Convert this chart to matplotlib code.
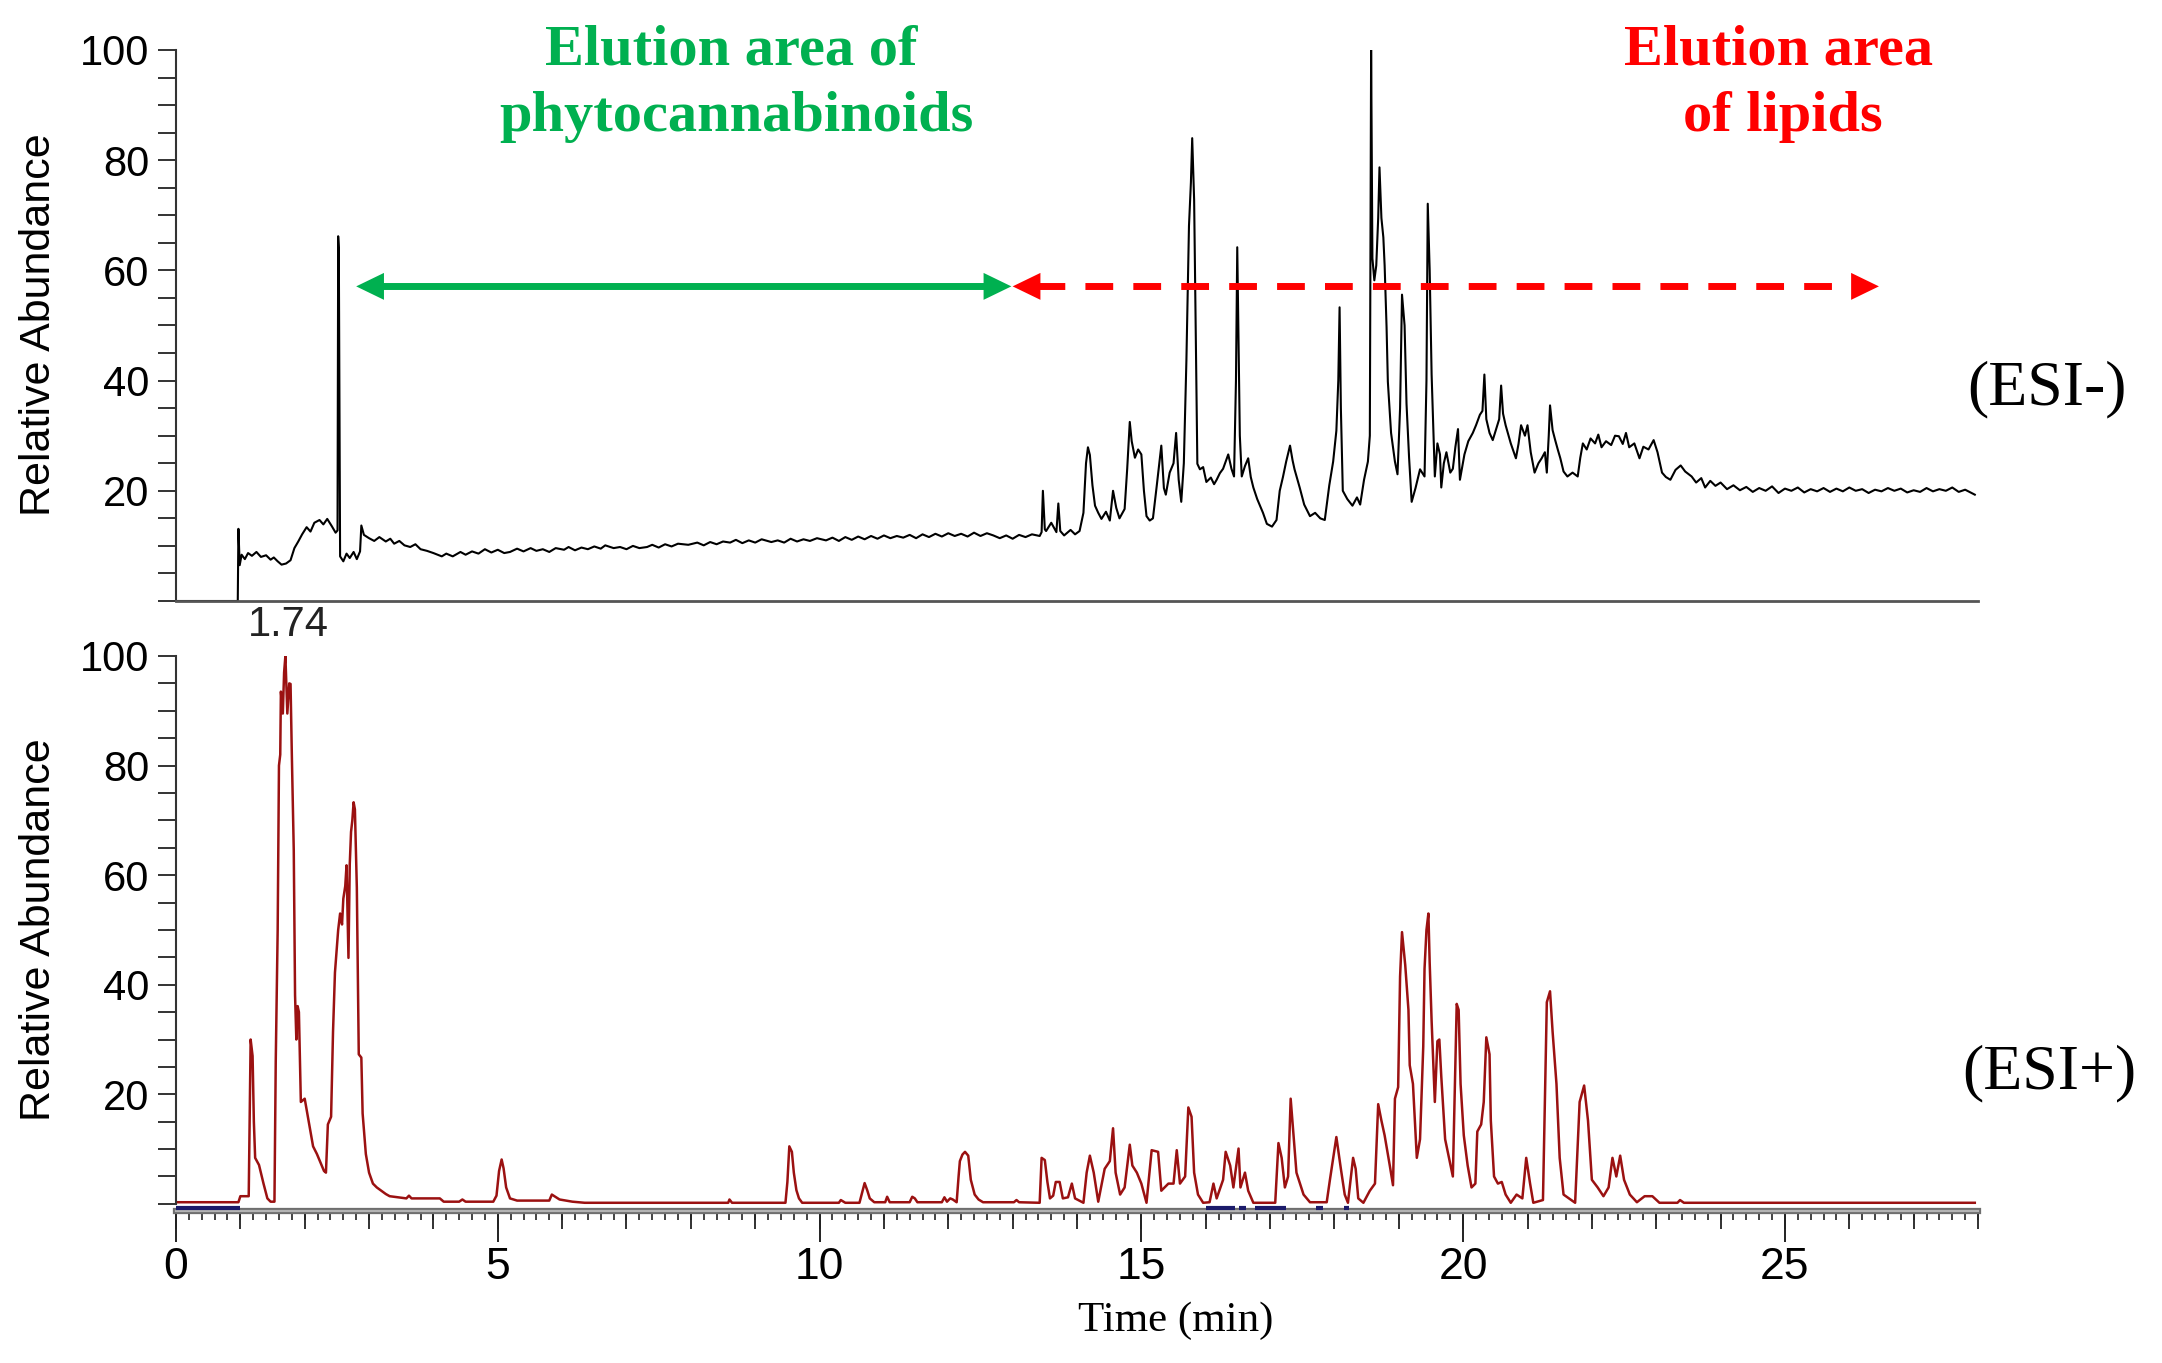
import matplotlib
matplotlib.use("Agg")
import matplotlib.pyplot as plt
from matplotlib.patches import FancyArrowPatch
from matplotlib.ticker import MultipleLocator

# ---- data ----
# ESI- total ion chromatogram (time in min, relative abundance %)
neg_time = [0.0, 0.96, 0.97, 0.99, 1.02, 1.07, 1.12, 1.18, 1.25, 1.32, 1.40, 1.47, 1.52, 1.58, 1.64, 1.71,
            1.78, 1.84, 1.90, 1.96, 2.03, 2.09, 2.15, 2.23, 2.29, 2.35, 2.42, 2.48, 2.51, 2.52, 2.53, 2.55,
            2.60, 2.65, 2.70, 2.76, 2.81, 2.86, 2.88, 2.92, 3.00, 3.08, 3.16, 3.26, 3.33, 3.39, 3.47, 3.55,
            3.64, 3.72, 3.80, 3.90, 4.00, 4.13, 4.20, 4.30, 4.42, 4.50, 4.60, 4.70, 4.80, 4.90, 5.00, 5.10,
            5.19, 5.30, 5.40, 5.51, 5.60, 5.70, 5.80, 5.90, 6.03, 6.10, 6.20, 6.30, 6.40, 6.50, 6.60, 6.67,
            6.80, 6.90, 7.00, 7.10, 7.20, 7.32, 7.40, 7.50, 7.60, 7.70, 7.80, 7.96, 8.10, 8.20, 8.30, 8.40,
            8.50, 8.61, 8.70, 8.80, 8.90, 9.00, 9.10, 9.25, 9.35, 9.45, 9.55, 9.65, 9.75, 9.85, 9.96, 10.10,
            10.20, 10.30, 10.40, 10.50, 10.60, 10.70, 10.80, 10.90, 11.00, 11.10, 11.20, 11.30, 11.40, 11.50,
            11.60, 11.70, 11.80, 11.90, 12.00, 12.10, 12.20, 12.30, 12.40, 12.50, 12.60, 12.70, 12.80, 12.90,
            13.00, 13.10, 13.20, 13.30, 13.42, 13.45, 13.47, 13.50, 13.52, 13.60, 13.68, 13.71, 13.74, 13.80,
            13.90, 13.97, 14.04, 14.10, 14.14, 14.17, 14.20, 14.24, 14.28, 14.33, 14.38, 14.45, 14.51, 14.56,
            14.61, 14.66, 14.74, 14.78, 14.82, 14.85, 14.90, 14.95, 15.00, 15.04, 15.08, 15.13, 15.18, 15.24,
            15.31, 15.35, 15.38, 15.44, 15.50, 15.54, 15.58, 15.62, 15.66, 15.70, 15.74, 15.77, 15.79, 15.82,
            15.85, 15.87, 15.91, 15.96, 16.01, 16.08, 16.13, 16.17, 16.22, 16.27, 16.35, 16.40, 16.44, 16.47,
            16.49, 16.51, 16.53, 16.56, 16.61, 16.66, 16.70, 16.74, 16.80, 16.89, 16.95, 17.03, 17.10, 17.15,
            17.20, 17.25, 17.31, 17.35, 17.38, 17.46, 17.53, 17.62, 17.70, 17.78, 17.85, 17.92, 17.98, 18.03,
            18.06, 18.08, 18.10, 18.13, 18.20, 18.28, 18.35, 18.40, 18.46, 18.52, 18.55, 18.57, 18.59, 18.62,
            18.65, 18.68, 18.70, 18.73, 18.76, 18.78, 18.81, 18.83, 18.88, 18.94, 18.98, 19.02, 19.05, 19.09,
            19.12, 19.16, 19.20, 19.26, 19.33, 19.40, 19.43, 19.45, 19.48, 19.51, 19.56, 19.60, 19.64, 19.66,
            19.70, 19.74, 19.80, 19.84, 19.88, 19.92, 19.95, 20.02, 20.08, 20.15, 20.20, 20.26, 20.30, 20.33,
            20.36, 20.41, 20.46, 20.52, 20.56, 20.59, 20.62, 20.66, 20.74, 20.82, 20.86, 20.90, 20.96, 21.00,
            21.05, 21.11, 21.17, 21.22, 21.27, 21.30, 21.33, 21.35, 21.39, 21.43, 21.47, 21.51, 21.56, 21.62,
            21.70, 21.78, 21.82, 21.86, 21.92, 21.98, 22.05, 22.10, 22.15, 22.22, 22.30, 22.36, 22.42, 22.48,
            22.53, 22.58, 22.66, 22.74, 22.80, 22.88, 22.96, 23.02, 23.09, 23.15, 23.22, 23.30, 23.38, 23.45,
            23.55, 23.62, 23.70, 23.76, 23.84, 23.92, 24.00, 24.10, 24.20, 24.30, 24.40, 24.50, 24.60, 24.70,
            24.80, 24.90, 25.00, 25.10, 25.20, 25.30, 25.40, 25.50, 25.60, 25.70, 25.80, 25.90, 26.00, 26.10,
            26.20, 26.30, 26.40, 26.50, 26.60, 26.70, 26.80, 26.90, 27.00, 27.10, 27.20, 27.30, 27.40, 27.50,
            27.60, 27.70, 27.80, 27.90, 27.95]
neg_abund = [0.0, 0.0, 13.1, 6.5, 8.4, 7.6, 8.7, 8.2, 8.9, 8.0, 8.3, 7.5, 7.9, 7.2, 6.6, 6.8,
             7.4, 9.6, 10.8, 12.1, 13.4, 12.6, 14.2, 14.7, 13.9, 14.9, 13.6, 12.4, 12.8, 66.2, 64.0, 8.1,
             7.2, 8.6, 7.8, 8.9, 7.6, 9.0, 13.7, 12.0, 11.4, 10.9, 11.6, 10.8, 11.3, 10.4, 10.9, 10.1,
             9.8, 10.3, 9.4, 9.1, 8.7, 8.1, 8.6, 8.1, 8.9, 8.4, 9.0, 8.6, 9.4, 8.8, 9.3, 8.7,
             8.9, 9.5, 9.0, 9.6, 9.1, 9.4, 8.9, 9.6, 9.3, 9.8, 9.2, 9.7, 9.4, 9.9, 9.5, 10.1,
             9.6, 9.8, 9.4, 10.0, 9.6, 9.8, 10.2, 9.7, 10.3, 9.9, 10.4, 10.2, 10.6, 10.1, 10.7, 10.3,
             10.8, 10.6, 11.1, 10.5, 11.0, 10.6, 11.2, 10.7, 11.0, 10.6, 11.3, 10.8, 11.2, 10.9, 11.4, 11.0,
             11.5, 10.9, 11.6, 11.1, 11.7, 11.2, 11.8, 11.3, 11.9, 11.4, 11.8, 11.5, 12.0, 11.4,
             12.1, 11.6, 12.2, 11.7, 12.3, 11.8, 12.2, 11.7, 12.4, 11.8, 12.3, 11.9, 11.4, 11.9,
             11.3, 12.0, 11.6, 12.1, 11.8, 12.5, 20.0, 13.0, 12.7, 14.2, 12.5, 17.7, 12.7, 11.9,
             12.9, 12.1, 12.7, 16.0, 25.0, 27.9, 26.5, 21.0, 17.3, 16.0, 14.9, 16.2, 14.6, 20.0,
             16.9, 15.0, 16.7, 24.0, 32.5, 29.0, 26.0, 27.5, 26.6, 20.0, 15.4, 14.6, 15.0, 21.0,
             28.2, 20.5, 19.3, 23.3, 25.0, 30.5, 22.0, 18.0, 25.0, 43.7, 68.1, 76.0, 84.0, 72.8,
             45.0, 24.9, 23.9, 24.3, 21.6, 22.4, 21.2, 22.0, 23.2, 24.0, 26.6, 24.0, 22.6, 40.0,
             64.2, 47.0, 30.0, 22.6, 24.5, 25.9, 22.5, 20.6, 18.5, 16.0, 14.0, 13.5, 14.7, 20.0,
             22.5, 25.3, 28.2, 25.5, 23.9, 20.6, 17.5, 15.4, 16.0, 15.0, 14.7, 21.0, 25.3, 30.9,
             40.0, 53.3, 35.0, 20.0, 18.5, 17.3, 18.8, 17.5, 22.0, 25.3, 30.0, 100.0, 62.2, 58.2,
             60.9, 69.5, 78.7, 69.5, 66.0, 60.9, 49.7, 39.8, 30.5, 25.3, 23.0, 35.0, 55.6, 50.0,
             35.8, 26.0, 18.0, 20.5, 23.9, 22.6, 40.0, 72.1, 60.0, 41.1, 22.6, 28.6, 26.6, 20.6,
             25.0, 27.0, 23.3, 24.0, 28.0, 31.2, 22.0, 26.6, 29.0, 30.5, 31.9, 33.8, 34.5, 41.1,
             33.0, 30.5, 29.2, 31.5, 33.0, 39.1, 34.0, 31.9, 28.6, 25.9, 28.5, 31.9, 30.0, 31.9,
             27.0, 23.3, 25.0, 25.9, 27.0, 23.3, 30.0, 35.5, 31.0, 29.2, 27.5, 25.9, 23.5, 22.6,
             23.3, 22.6, 26.0, 28.6, 27.5, 29.5, 28.6, 30.2, 27.9, 29.0, 28.3, 30.0, 29.9, 28.5,
             30.5, 27.9, 28.6, 25.9, 28.0, 27.5, 29.2, 27.0, 23.3, 22.5, 22.0, 23.8, 24.6, 23.5,
             22.6, 21.5, 22.3, 20.6, 21.8, 20.9, 21.5, 20.3, 21.0, 20.1, 20.7, 19.8, 20.5, 20.0,
             20.8, 19.6, 20.4, 20.0, 20.6, 19.7, 20.3, 19.9, 20.5, 19.8, 20.4, 19.9, 20.6, 20.0,
             20.3, 19.6, 20.2, 19.9, 20.5, 20.0, 20.4, 19.7, 20.1, 19.8, 20.5, 19.9, 20.3, 20.0,
             20.6, 19.8, 20.2, 19.6, 19.3]

# ESI+ total ion chromatogram
pos_time = [0.0, 0.97, 1.00, 1.13, 1.15, 1.16, 1.19, 1.21, 1.23, 1.29, 1.36, 1.42, 1.47, 1.53, 1.55, 1.58,
            1.60, 1.62, 1.63, 1.66, 1.68, 1.70, 1.72, 1.73, 1.76, 1.78, 1.80, 1.83, 1.85, 1.87, 1.89, 1.91,
            1.94, 2.00, 2.07, 2.13, 2.19, 2.26, 2.30, 2.33, 2.36, 2.41, 2.44, 2.47, 2.50, 2.52, 2.55, 2.58,
            2.60, 2.63, 2.65, 2.68, 2.70, 2.72, 2.74, 2.76, 2.78, 2.81, 2.84, 2.88, 2.90, 2.95, 3.00, 3.06,
            3.12, 3.19, 3.26, 3.32, 3.45, 3.58, 3.62, 3.66, 4.10, 4.16, 4.40, 4.45, 4.50, 4.93, 4.98, 5.02,
            5.06, 5.09, 5.13, 5.19, 5.30, 5.80, 5.84, 5.88, 5.96, 6.16, 6.35, 8.58, 8.60, 8.64, 9.47, 9.50,
            9.53, 9.57, 9.60, 9.64, 9.68, 9.73, 10.30, 10.33, 10.40, 10.62, 10.66, 10.70, 10.74, 10.78, 10.85,
            11.02, 11.05, 11.09, 11.40, 11.44, 11.48, 11.52, 11.90, 11.94, 11.98, 12.03, 12.07, 12.13, 12.16,
            12.18, 12.22, 12.26, 12.31, 12.35, 12.41, 12.47, 12.54, 13.02, 13.06, 13.10, 13.42, 13.45, 13.50,
            13.54, 13.58, 13.63, 13.67, 13.73, 13.78, 13.86, 13.92, 13.97, 14.10, 14.15, 14.20, 14.26, 14.33,
            14.43, 14.51, 14.56, 14.60, 14.67, 14.74, 14.82, 14.86, 14.93, 15.00, 15.08, 15.16, 15.26, 15.31,
            15.36, 15.42, 15.50, 15.55, 15.60, 15.68, 15.73, 15.78, 15.82, 15.88, 15.96, 16.06, 16.12, 16.17,
            16.27, 16.31, 16.38, 16.43, 16.51, 16.54, 16.61, 16.66, 16.74, 17.08, 17.13, 17.18, 17.23, 17.28,
            17.32, 17.36, 17.41, 17.52, 17.62, 17.88, 17.93, 18.03, 18.10, 18.16, 18.21, 18.29, 18.33, 18.37,
            18.45, 18.55, 18.63, 18.68, 18.73, 18.78, 18.86, 18.91, 18.94, 18.99, 19.02, 19.05, 19.08, 19.10,
            19.15, 19.17, 19.22, 19.28, 19.33, 19.38, 19.40, 19.43, 19.46, 19.48, 19.51, 19.56, 19.60, 19.63,
            19.66, 19.72, 19.78, 19.84, 19.87, 19.90, 19.93, 19.96, 20.01, 20.07, 20.13, 20.19, 20.22, 20.28,
            20.32, 20.36, 20.41, 20.43, 20.48, 20.54, 20.60, 20.66, 20.74, 20.83, 20.92, 20.98, 21.04, 21.09,
            21.24, 21.30, 21.35, 21.39, 21.45, 21.50, 21.56, 21.74, 21.81, 21.88, 21.94, 22.00, 22.09, 22.18,
            22.26, 22.32, 22.38, 22.44, 22.50, 22.59, 22.70, 22.82, 22.94, 23.05, 23.33, 23.37, 23.43, 27.95]
pos_abund = [0.3, 0.3, 1.4, 1.4, 20.0, 30.0, 27.0, 15.0, 8.4, 7.1, 3.7, 1.0, 0.4, 0.4, 26.0, 50.0,
             80.0, 82.0, 93.5, 89.5, 97.0, 100.0, 93.0, 89.5, 95.0, 94.9, 82.0, 64.5, 38.1, 30.0, 36.1, 35.0,
             18.6, 19.2, 14.5, 10.5, 9.1, 7.1, 6.0, 5.7, 14.5, 15.9, 31.4, 42.2, 47.0, 50.0, 53.0, 51.0,
             55.7, 58.0, 61.8, 44.9, 62.0, 67.9, 70.0, 73.3, 72.0, 57.7, 27.3, 26.7, 16.5, 9.1, 5.7, 3.7,
             3.0, 2.4, 1.8, 1.4, 1.2, 1.0, 1.5, 1.0, 1.0, 0.4, 0.4, 0.8, 0.4, 0.4, 1.5, 6.0,
             8.1, 6.5, 3.0, 1.0, 0.6, 0.6, 1.7, 1.4, 0.8, 0.4, 0.2, 0.2, 0.8, 0.2, 0.2, 4.0,
             10.5, 9.5, 5.7, 2.5, 1.0, 0.2, 0.2, 0.7, 0.2, 0.2, 2.0, 3.8, 2.5, 1.0, 0.3,
             0.3, 1.3, 0.3, 0.3, 1.3, 1.0, 0.3, 0.3, 1.2, 0.4, 1.0, 0.8, 0.3, 5.0,
             7.8, 9.0, 9.5, 8.8, 4.4, 1.7, 0.8, 0.3, 0.3, 0.7, 0.3, 0.2, 8.4, 8.0,
             4.0, 1.0, 1.5, 4.0, 4.0, 1.0, 1.2, 3.7, 1.0, 0.2, 5.7, 8.8, 5.7, 0.4,
             6.4, 7.8, 13.8, 5.7, 1.7, 3.0, 10.8, 7.0, 5.7, 3.7, 0.2, 9.8, 9.5, 2.4,
             3.0, 3.7, 3.7, 9.8, 3.7, 5.0, 17.6, 15.9, 5.7, 1.7, 0.2, 0.3, 3.7, 1.0,
             4.4, 9.5, 7.0, 3.0, 10.1, 3.0, 5.7, 2.4, 0.2, 0.2, 11.1, 8.4, 3.0, 5.0,
             19.2, 13.2, 5.7, 1.7, 0.3, 0.3, 4.4, 12.2, 6.4, 1.7, 0.2, 8.4, 6.4, 1.0,
             0.2, 2.4, 3.7, 18.2, 15.2, 12.5, 7.0, 3.4, 19.2, 21.3, 41.5, 49.6, 46.0, 43.6,
             35.4, 25.3, 21.9, 8.4, 11.8, 28.7, 42.9, 50.0, 53.0, 44.0, 33.4, 18.6, 29.7, 30.0,
             23.3, 11.8, 8.4, 5.0, 20.6, 36.5, 35.4, 21.9, 12.5, 7.0, 3.0, 3.7, 13.2, 14.5,
             18.6, 30.4, 27.3, 15.2, 5.0, 3.7, 4.0, 1.7, 0.2, 1.7, 1.0, 8.4, 3.7, 0.2,
             0.7, 36.8, 38.8, 31.4, 21.9, 8.4, 1.7, 0.2, 18.6, 21.6, 15.2, 4.4, 3.0, 1.4,
             3.0, 8.4, 5.0, 8.8, 4.4, 1.7, 0.3, 1.4, 1.4, 0.2, 0.2, 0.7, 0.2, 0.2]

# scan-filter segments marked on the ESI+ time bar (start, end in min)
bar_segments = [(0.0, 1.0), (16.0, 16.46), (16.51, 16.62), (16.77, 17.25), (17.72, 17.83), (18.15, 18.22)]

x_ticks = [0, 5, 10, 15, 20, 25]
y_ticks = [20, 40, 60, 80, 100]
peak_label = "1.74"
phyto_range = (2.80, 12.98)
lipid_range = (13.00, 26.46)
arrow_level = 57.1

GREEN = "#00b050"
RED = "#ff0000"
SANS = ["Liberation Sans", "DejaVu Sans"]
SERIF = ["Liberation Serif", "DejaVu Serif"]

plt.rcParams["font.family"] = SANS

fig = plt.figure(figsize=(21.62, 13.63), dpi=100)
ax_top = fig.add_axes([0.0814, 0.55906, 0.8335, 0.40426])
ax_bot = fig.add_axes([0.0814, 0.11152, 0.8335, 0.40719])


def style_y(ax):
    ax.set_yticks(y_ticks)
    ax.yaxis.set_minor_locator(MultipleLocator(5))
    ax.tick_params(axis="y", which="both", direction="out", length=13, width=1.4,
                   color="#333333", labelsize=30, pad=6)
    ax.spines["left"].set_color("#333333")
    ax.spines["left"].set_linewidth(1.5)
    for s in ("top", "right"):
        ax.spines[s].set_visible(False)


# ---- ESI- panel ----
ax_top.plot(neg_time, neg_abund, color="black", lw=1.5)
ax_top.set_xlim(0, 28)
ax_top.set_ylim(0, 100)
style_y(ax_top)
ax_top.spines["left"].set_bounds(0, 100)
ax_top.spines["bottom"].set_color("#555555")
ax_top.spines["bottom"].set_linewidth(2.0)
ax_top.set_xticks([])

# ---- ESI+ panel ----
ax_bot.plot(pos_time, pos_abund, color="#9b1111", lw=1.8)
ax_bot.set_xlim(0, 28)
ax_bot.set_ylim(-1.3, 100)
style_y(ax_bot)
ax_bot.spines["left"].set_bounds(0, 100)
ax_bot.spines["bottom"].set_color("#6e6e6e")
ax_bot.spines["bottom"].set_linewidth(4.5)
ax_bot.plot([0, 28], [0, 0], transform=ax_bot.get_xaxis_transform(), color="#b4b4b4",
            lw=1.6, clip_on=False, zorder=5)
for a, b in bar_segments:
    ax_bot.plot([a, b], [0.005, 0.005], transform=ax_bot.get_xaxis_transform(),
                color="#1b1b6a", lw=3.0, clip_on=False, zorder=6, solid_capstyle="butt")

ax_bot.set_xticks(x_ticks)
ax_bot.xaxis.set_minor_locator(MultipleLocator(0.2))
ax_bot.tick_params(axis="x", which="major", direction="out", length=22, width=1.4,
                   color="#222222", labelsize=32, pad=4)
ax_bot.tick_params(axis="x", which="minor", direction="out", length=6.5, width=1.2,
                   color="#222222")
for lab in ax_bot.get_xticklabels():
    lab.set_family(["Liberation Sans Narrow", "Liberation Sans"])

# integer ticks (medium length)
sec = ax_bot.secondary_xaxis("bottom")
sec.set_xticks(list(range(0, 29)))
sec.tick_params(axis="x", direction="out", length=13, width=1.3, color="#222222", labelbottom=False)
sec.spines["bottom"].set_visible(False)

# ---- annotations ----
fig.text(0.018, 0.7616, "Relative Abundance", rotation=90, ha="center", va="center", fontsize=31)
fig.text(0.018, 0.3177, "Relative Abundance", rotation=90, ha="center", va="center", fontsize=31)
fig.text(0.1332, 0.5414, peak_label, ha="center", va="center", fontsize=30, color="#222222")
fig.text(0.5439, 0.0308, "Time (min)", ha="center", va="center", fontsize=31, family=SERIF)

fig.text(0.3381, 0.9626, "Elution area of", ha="center", va="center", fontsize=42,
         family=SERIF, weight="bold", color=GREEN)
fig.text(0.3404, 0.9142, "phytocannabinoids", ha="center", va="center", fontsize=42,
         family=SERIF, weight="bold", color=GREEN)
fig.text(0.8228, 0.9626, "Elution area", ha="center", va="center", fontsize=42,
         family=SERIF, weight="bold", color=RED)
fig.text(0.8247, 0.9142, "of lipids", ha="center", va="center", fontsize=42,
         family=SERIF, weight="bold", color=RED)

fig.text(0.947, 0.7146, "(ESI-)", ha="center", va="center", fontsize=46, family=SERIF)
fig.text(0.948, 0.2128, "(ESI+)", ha="center", va="center", fontsize=46, family=SERIF)

# double arrows: shafts as lines, heads as filled arrow patches
head_len = 0.42  # in minutes (about 28 px)


def add_head(ax, tip, back, y, color):
    p = FancyArrowPatch((back, y), (tip, y),
                        arrowstyle="-|>,head_length=20,head_width=9.7",
                        mutation_scale=1, lw=0, color=color, shrinkA=0, shrinkB=0,
                        clip_on=False, zorder=8)
    ax.add_patch(p)


g0, g1 = phyto_range
ax_top.plot([g0 + head_len * 0.9, g1 - head_len * 0.9], [arrow_level, arrow_level],
            color=GREEN, lw=5, solid_capstyle="butt", zorder=7)
add_head(ax_top, g0, g0 + 1.0, arrow_level, GREEN)
add_head(ax_top, g1, g1 - 1.0, arrow_level, GREEN)

r0, r1 = lipid_range
ax_top.plot([r0 + head_len * 0.9, r1 - head_len * 0.9], [arrow_level, arrow_level],
            color=RED, lw=5, linestyle=(0, (4.0, 2.9)), dash_capstyle="butt", zorder=7)
add_head(ax_top, r0, r0 + 1.0, arrow_level, RED)
add_head(ax_top, r1, r1 - 1.0, arrow_level, RED)

fig.savefig("out.png", dpi=100)
